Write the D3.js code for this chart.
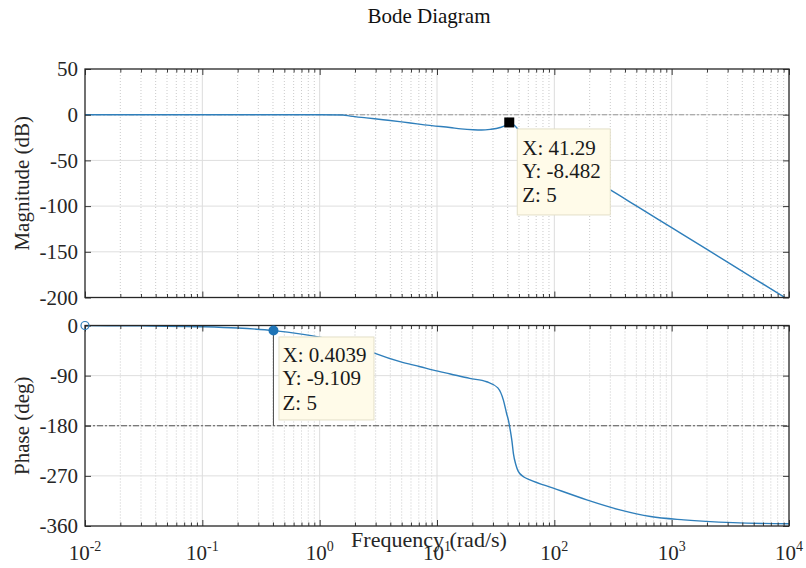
<!DOCTYPE html>
<html><head><meta charset="utf-8">
<script src="https://cdn.jsdelivr.net/npm/d3@7"></script>
<style>
html,body{margin:0;padding:0;background:#fff;}
svg text{font-family:"Liberation Serif","Times New Roman",serif;}
</style></head>
<body><svg id="c" width="806" height="568"></svg>
<script>
// ---- data ----
const titleText = "Bode Diagram";
const xLabel = "Frequency (rad/s)";
const magLabel = "Magnitude (dB)";
const phaseLabel = "Phase (deg)";
const xDecades = [-2, -1, 0, 1, 2, 3, 4];
const magTicks = [50, 0, -50, -100, -150, -200];
const phaseTicks = [0, -90, -180, -270, -360];

const magFreq = [0.01, 0.1, 1, 1.58, 1.82, 2.5, 3.47, 5, 6.77, 9, 12.9, 16, 20.3, 24, 28.4, 34.5, 38, 41.29, 45, 50, 60, 80, 120, 200, 298, 500, 1000, 2000, 5000, 10000];
const magDb   = [0, 0, -0.1, -0.4, -1.5, -3.5, -5.5, -7.8, -10, -12, -14, -15.5, -16.5, -16.8, -16, -14, -12, -8.482, -11, -17, -27, -40, -55, -69, -82, -99.8, -123.6, -147.4, -179, -202.8];

const phaseFreq = [0.01, 0.03, 0.1, 0.2, 0.4039, 0.7, 1, 1.5, 2.2, 2.97, 4.84, 7.2, 9.3, 13, 19, 26.5, 33, 36.8, 39.2, 40.8, 41.9, 43.5, 44.8, 47, 49.3, 55, 62, 98, 189, 362, 660, 1270, 3340, 10000];
const phaseDeg  = [-0.2, -0.7, -2.3, -4.6, -9.109, -15.5, -21, -29, -39, -50, -65, -74, -80, -87, -95, -101, -112, -134, -158, -172, -185, -207, -230, -250, -262, -272, -277, -292, -313, -331, -343, -349, -354, -356];

const magTip = {x: 41.29, y: -8.482, z: 5};
const phaseTip = {x: 0.4039, y: -9.109, z: 5};
const tipLinesMag = ["X: 41.29", "Y: -8.482", "Z: 5"];
const tipLinesPhase = ["X: 0.4039", "Y: -9.109", "Z: 5"];

// ---- layout ----
const svg = d3.select("#c");
const L = 85, R = 789;
const magTop = 69, magBot = 297.5;
const phTop = 325.5, phBot = 526;
const txt = "#262626";
const lineColor = "#2f7fbb";
const serif = '"Liberation Serif","Times New Roman",serif';

const x = d3.scaleLog().domain([1e-2, 1e4]).range([L, R]);
const yMag = d3.scaleLinear().domain([-200, 50]).range([magBot, magTop]);
const yPh = d3.scaleLinear().domain([-360, 0]).range([phBot, phTop]);

const majors = xDecades.map(d => Math.pow(10, d));
const minors = [];
for (let d = -2; d < 4; d++) for (let k = 2; k <= 9; k++) minors.push(k * Math.pow(10, d));

function panel(y, ticks, top, bot) {
  const g = svg.append("g");
  g.selectAll(".mg").data(minors).join("line")
    .attr("x1", d => x(d)).attr("x2", d => x(d)).attr("y1", top).attr("y2", bot)
    .attr("stroke", "#bdbdbd").attr("stroke-width", 0.8).attr("stroke-dasharray", "1,2");
  g.selectAll(".Mg").data(majors.slice(1, -1)).join("line")
    .attr("x1", d => x(d)).attr("x2", d => x(d)).attr("y1", top).attr("y2", bot)
    .attr("stroke", "#dcdcdc").attr("stroke-width", 1);
  g.selectAll(".hg").data(ticks.slice(1, -1)).join("line")
    .attr("x1", L).attr("x2", R).attr("y1", d => y(d)).attr("y2", d => y(d))
    .attr("stroke", "#dedede").attr("stroke-width", 1);
  return g;
}

function axes(y, ticks, top, bot) {
  const g = svg.append("g");
  const noDomain = s => s.select(".domain").remove();
  g.append("g").attr("transform", `translate(0,${bot})`)
    .call(d3.axisBottom(x).tickValues(majors).tickSizeInner(-6).tickSizeOuter(0).tickFormat(""))
    .call(noDomain);
  g.append("g").attr("transform", `translate(0,${bot})`)
    .call(d3.axisBottom(x).tickValues(minors).tickSizeInner(-3.5).tickSizeOuter(0).tickFormat(""))
    .call(noDomain);
  g.append("g").attr("transform", `translate(0,${top})`)
    .call(d3.axisTop(x).tickValues(majors).tickSizeInner(-6).tickSizeOuter(0).tickFormat(""))
    .call(noDomain);
  g.append("g").attr("transform", `translate(0,${top})`)
    .call(d3.axisTop(x).tickValues(minors).tickSizeInner(-3.5).tickSizeOuter(0).tickFormat(""))
    .call(noDomain);
  g.append("g").attr("transform", `translate(${R},0)`)
    .call(d3.axisRight(y).tickValues(ticks).tickSizeInner(-6).tickSizeOuter(0).tickFormat(""))
    .call(noDomain);
  const la = g.append("g").attr("transform", `translate(${L},0)`)
    .call(d3.axisLeft(y).tickValues(ticks).tickSizeInner(-6).tickSizeOuter(0).tickPadding(7).tickFormat(d => String(d)))
    .call(noDomain);
  la.selectAll("text").attr("font-size", 21).attr("fill", txt).style("font-family", serif);
  g.selectAll(".tick line").attr("stroke", txt).attr("stroke-width", 0.9);
  g.append("rect").attr("x", L).attr("y", top).attr("width", R - L).attr("height", bot - top)
    .attr("fill", "none").attr("stroke", txt).attr("stroke-width", 1.3);
}

// ---- magnitude panel ----
panel(yMag, magTicks, magTop, magBot);
svg.append("line").attr("x1", L).attr("x2", R).attr("y1", yMag(0)).attr("y2", yMag(0))
  .attr("stroke", "#9a9a9a").attr("stroke-width", 1.1).attr("stroke-dasharray", "5,2,2,2");
const lineMag = d3.line().x((d, i) => x(magFreq[i])).y(d => yMag(d)).curve(d3.curveMonotoneX);
svg.append("defs").append("clipPath").attr("id", "cm").append("rect")
  .attr("x", L).attr("y", magTop).attr("width", R - L).attr("height", magBot - magTop);
svg.append("path").datum(magDb).attr("d", lineMag).attr("fill", "none")
  .attr("stroke", lineColor).attr("stroke-width", 1.4).attr("clip-path", "url(#cm)");
axes(yMag, magTicks, magTop, magBot);

// ---- phase panel ----
panel(yPh, phaseTicks, phTop, phBot);
svg.append("line").attr("x1", L).attr("x2", R).attr("y1", yPh(-180)).attr("y2", yPh(-180))
  .attr("stroke", "#555").attr("stroke-width", 1.1).attr("stroke-dasharray", "6,2,2,2");
const linePh = d3.line().x((d, i) => x(phaseFreq[i])).y(d => yPh(d)).curve(d3.curveMonotoneX);
svg.append("path").datum(phaseDeg).attr("d", linePh).attr("fill", "none")
  .attr("stroke", lineColor).attr("stroke-width", 1.4);
axes(yPh, phaseTicks, phTop, phBot);

// x tick labels (10^n)
const xl = svg.append("g");
xDecades.forEach(d => {
  const t = xl.append("text").attr("x", x(Math.pow(10, d))).attr("y", 560)
    .attr("text-anchor", "middle").attr("font-size", 21).attr("fill", txt);
  t.append("tspan").text("10");
  t.append("tspan").attr("dy", -9).attr("font-size", 14).text(String(d));
});

// ---- data tips ----
function dataTip(px, py, lines, dx, dy, w, h, tx, base, marker) {
  if (marker === "square") {
    svg.append("rect").attr("x", px - 5).attr("y", py - 5).attr("width", 10).attr("height", 10).attr("fill", "#000");
  } else {
    svg.append("line").attr("x1", px).attr("x2", px).attr("y1", py).attr("y2", yPh(-180))
      .attr("stroke", "#555").attr("stroke-width", 1.1);
  }
  svg.append("rect").attr("x", px + dx).attr("y", py + dy).attr("width", w).attr("height", h)
    .attr("fill", "#fffbe9").attr("stroke", "#e3dfc8").attr("stroke-width", 1);
  lines.forEach((s, i) => {
    svg.append("text").attr("x", px + dx + tx).attr("y", py + dy + base[i])
      .attr("font-size", 21).attr("fill", "#1a1a1a").text(s);
  });
  if (marker === "circle") {
    svg.append("circle").attr("cx", px).attr("cy", py).attr("r", 5).attr("fill", "#1f74b6");
  }
}
dataTip(x(magTip.x), yMag(magTip.y), tipLinesMag, 8, 6.5, 93, 86, 5, [26, 49.5, 73], "square");
dataTip(x(phaseTip.x), yPh(phaseTip.y), tipLinesPhase, 5.5, 6.4, 95, 83, 3.5, [24.7, 48, 73], "circle");

// hollow marker at start of phase curve
svg.append("circle").attr("cx", x(phaseFreq[0])).attr("cy", yPh(0)).attr("r", 4)
  .attr("fill", "none").attr("stroke", lineColor).attr("stroke-width", 1.2);

// ---- titles ----
svg.append("text").attr("x", 429).attr("y", 23).attr("text-anchor", "middle")
  .attr("font-size", 21).attr("fill", "#111").text(titleText);
svg.append("text").attr("x", 429).attr("y", 547).attr("text-anchor", "middle")
  .attr("font-size", 22).attr("fill", txt).text(xLabel);
svg.append("text").attr("transform", `translate(29,${(magTop + magBot) / 2}) rotate(-90)`)
  .attr("text-anchor", "middle").attr("font-size", 21).attr("fill", txt).text(magLabel);
svg.append("text").attr("transform", `translate(29,${(phTop + phBot) / 2}) rotate(-90)`)
  .attr("text-anchor", "middle").attr("font-size", 21).attr("fill", txt).text(phaseLabel);
</script></body></html>
